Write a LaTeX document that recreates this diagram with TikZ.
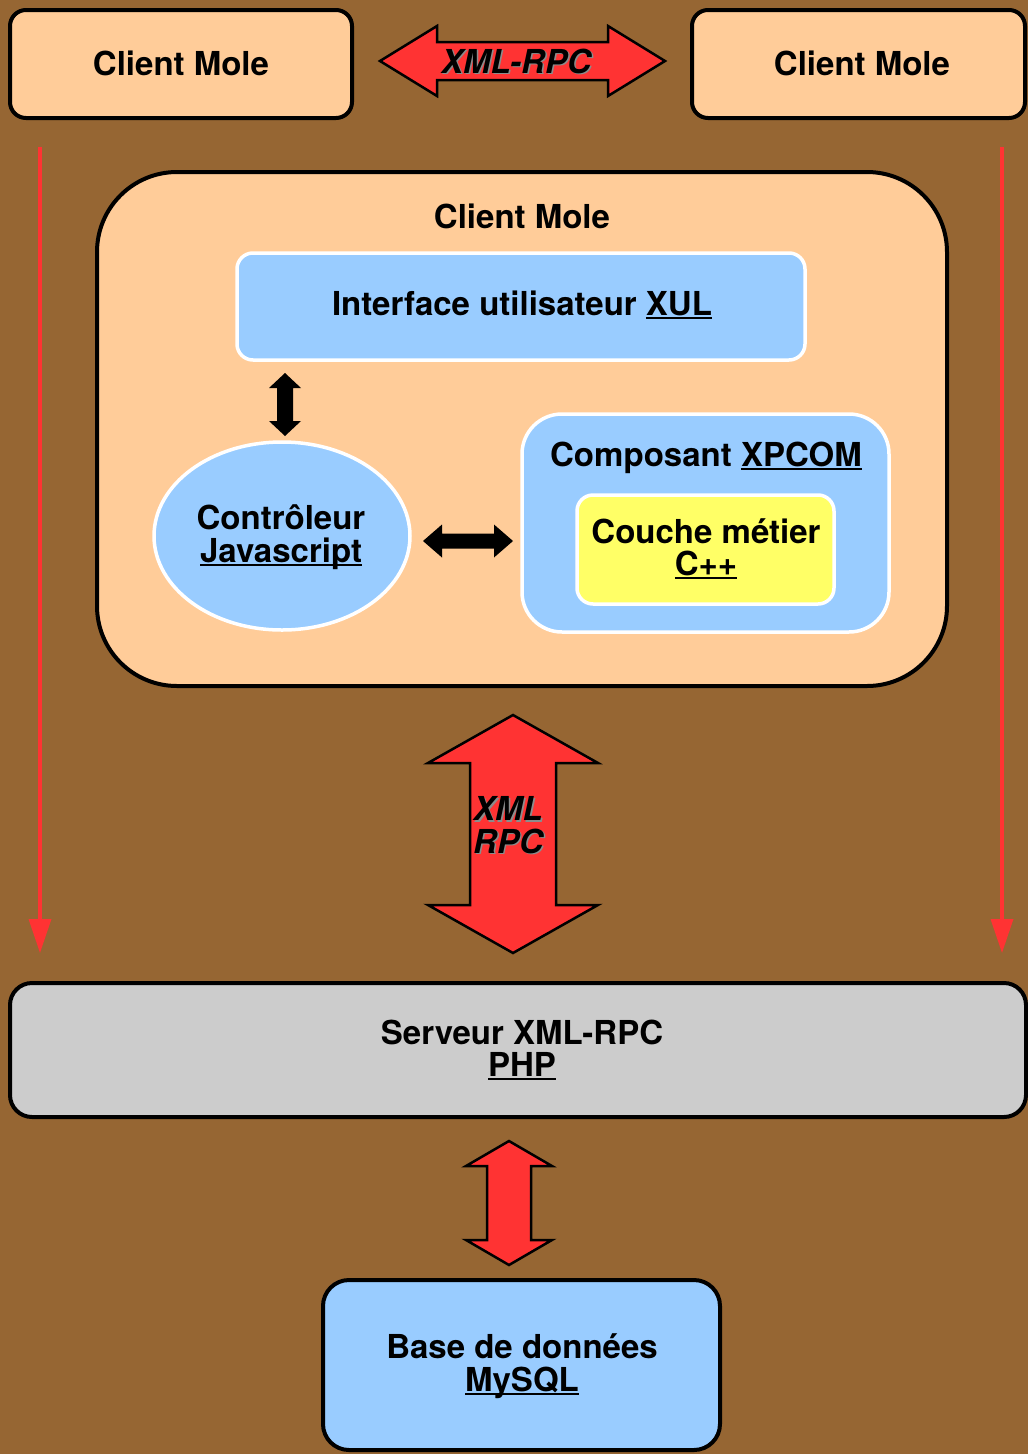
\documentclass[tikz,border=0pt]{standalone}
\usepackage{fontspec}
\setmainfont{TeX Gyre Heros}
\usetikzlibrary{arrows.meta,shapes.geometric}
\definecolor{bg}{HTML}{966633}
\definecolor{peach}{HTML}{FFCC99}
\definecolor{lblue}{HTML}{99CCFF}
\definecolor{yel}{HTML}{FFFF66}
\definecolor{redarr}{HTML}{FF3333}
\definecolor{grayb}{HTML}{CCCCCC}
\newcommand\ulx[1]{\setbox0\hbox{#1}\rlap{\rule[-3.5pt]{\wd0}{2pt}}\box0}
\newcommand\vdbl[7]{% style, cx, ytop, ybot, shaft half, head half, head len
  \path[#1] (#2,#3) -- ({#2+#6},{#3+#7}) -- ({#2+#5},{#3+#7}) -- ({#2+#5},{#4-#7}) -- ({#2+#6},{#4-#7})
    -- (#2,#4) -- ({#2-#6},{#4-#7}) -- ({#2-#5},{#4-#7}) -- ({#2-#5},{#3+#7}) -- ({#2-#6},{#3+#7}) -- cycle;}
\newcommand\hdbl[7]{% style, cy, xleft, xright, shaft half, head half, head len
  \path[#1] (#3,#2) -- ({#3+#7},{#2-#6}) -- ({#3+#7},{#2-#5}) -- ({#4-#7},{#2-#5}) -- ({#4-#7},{#2-#6})
    -- (#4,#2) -- ({#4-#7},{#2+#6}) -- ({#4-#7},{#2+#5}) -- ({#3+#7},{#2+#5}) -- ({#3+#7},{#2+#6}) -- cycle;}
\begin{document}
\begin{tikzpicture}[x=1pt,y=-1pt,
  txt/.style={font=\fontsize{33}{32.5}\selectfont\bfseries, align=center, inner sep=0pt},
  boxb/.style={draw=black, line width=4pt, rounded corners=#1, inner sep=0pt, txt},
  boxw/.style={draw=white, line width=3.5pt, rounded corners=#1, inner sep=0pt, txt},
  redblock/.style={fill=redarr, draw=black, line width=2.5pt, line join=miter},
  blkblock/.style={fill=black},
  thinred/.style={draw=redarr, line width=3.5pt, -{Triangle[width=22pt,length=34pt]}},
  ital/.style={font=\fontsize{33}{32.5}\selectfont\bfseries\itshape, align=center, inner sep=0pt}
]
\useasboundingbox (0,0) rectangle (1028,1454);
\fill[bg] (0,0) rectangle (1028,1454);

% top boxes
\node[boxb=16pt, fill=peach, minimum width=342pt, minimum height=108pt] (cl1) at (181,64) {};
\node[txt] (cl1t) at (181,63) {Client Mole};
\node[boxb=16pt, fill=peach, minimum width=333pt, minimum height=108pt] (cl2) at (858.5,64) {};
\node[txt] (cl2t) at (862,63) {Client Mole};

% top XML-RPC arrow
\hdbl{redblock}{61}{380}{665}{19}{35}{57}
\node[ital, text=black!45] (xt0) at (517.5,62.5) {XML-RPC};
\node[ital] (xt) at (516,61) {XML-RPC};

% thin red arrows
\coordinate (la1) at (40,147); \coordinate (la2) at (40,953);
\coordinate (ra1) at (1002,147); \coordinate (ra2) at (1002,953);
\draw[thinred] (la1) -- (la2);
\draw[thinred] (ra1) -- (ra2);

% container
\node[boxb=80pt, fill=peach, minimum width=850pt, minimum height=514pt] (cont) at (522,429) {};
\node[txt] (contt) at (522,216) {Client Mole};

% XUL
\node[boxw=16pt, fill=lblue, minimum width=568pt, minimum height=107pt] (xul) at (521,306.5) {};
\node[txt] (xult) at (522,305) {Interface utilisateur \ulx{XUL}};

% vertical black arrow
\vdbl{blkblock}{285}{373}{436}{8}{16}{15}

% ellipse
\node[ellipse, draw=white, line width=3.5pt, fill=lblue, minimum width=256pt, minimum height=188pt, inner sep=0pt] (ctrl) at (282,536) {};
\node[txt] (ctrlt) at (281,537) {Contrôleur\\\ulx{Javascript}};

% horizontal black arrow
\hdbl{blkblock}{541}{423}{513}{7.5}{16.5}{19}

% XPCOM
\node[boxw=40pt, fill=lblue, minimum width=367pt, minimum height=218pt] (xp) at (705.5,523) {};
\node[txt] (xpt) at (706,458) {Composant \ulx{XPCOM}};
\node[boxw=16pt, fill=yel, minimum width=257pt, minimum height=109pt] (cpp) at (705.5,549.5) {};
\node[txt] (cppt) at (706,549) {Couche métier\\\ulx{C++}};

% big XML RPC arrow
\vdbl{redblock}{513}{715}{953}{43}{85}{48}
\node[ital, text=black!45] (bt0) at (509.5,826.5) {XML\\RPC};
\node[ital] (bt) at (508,825) {XML\\RPC};

% server
\node[boxb=22pt, fill=grayb, minimum width=1016pt, minimum height=134pt] (srv) at (518,1050) {};
\node[txt] (srvt) at (522,1050) {Serveur XML-RPC\\\ulx{PHP}};

% small red arrow
\vdbl{redblock}{509}{1141}{1265}{22}{43}{25}

% database
\node[boxb=26pt, fill=lblue, minimum width=397pt, minimum height=170pt] (db) at (521.5,1365) {};
\node[txt] (dbt) at (522,1366) {Base de données\\\ulx{MySQL}};
\end{tikzpicture}
\end{document}
